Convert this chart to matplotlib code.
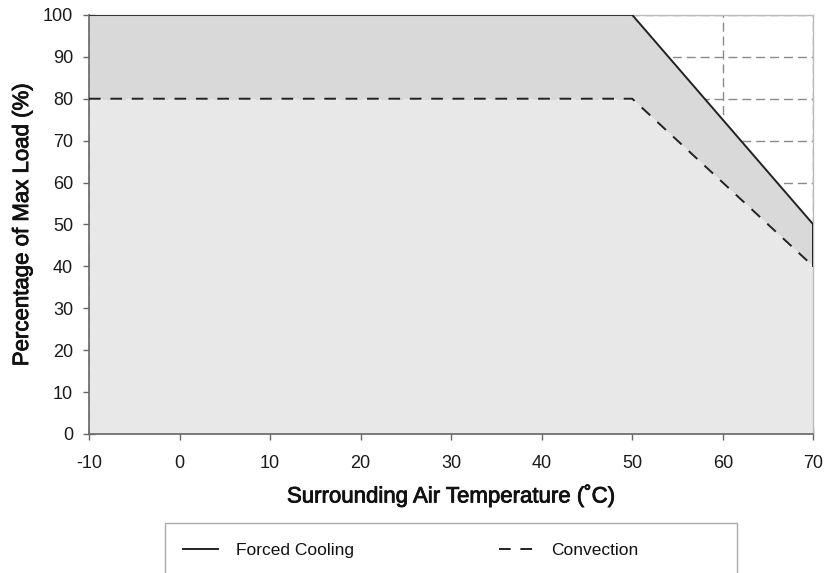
import matplotlib.pyplot as plt
import matplotlib.patheffects as pe
from matplotlib.patches import Rectangle

plt.rcParams['font.family'] = ['Liberation Sans', 'DejaVu Sans']
plt.rcParams['axes.unicode_minus'] = False

temp = [-10, 50, 70]
forced = [100, 100, 50]
convection = [80, 80, 40]

xticks = [-10, 0, 10, 20, 30, 40, 50, 60, 70]
yticks = [0, 10, 20, 30, 40, 50, 60, 70, 80, 90, 100]


def main():
    fig = plt.figure(figsize=(8.24, 5.73), dpi=100)
    ax = fig.add_axes([0.108, 0.2426, 0.879, 0.7314])

    ax.set_xlim(-10, 70)
    ax.set_ylim(0, 100)
    ax.set_xticks(xticks)
    ax.set_yticks(yticks)
    ax.tick_params(direction='inout', length=9, width=1, color='#666666',
                   labelsize=13, labelcolor='#1a1a1a')
    ax.tick_params(axis='x', pad=10.5)
    ax.tick_params(axis='y', pad=7)

    ax.grid(True, linestyle=(0, (6.5, 3.5)), color='#8a8a8a', linewidth=1)
    ax.set_axisbelow(True)

    ax.fill_between(temp, convection, forced, color='#d9d9d9', linewidth=0, zorder=2)
    ax.fill_between(temp, 0, convection, color='#e8e8e8', linewidth=0, zorder=2)

    ax.plot(temp, forced, color='#222222', linewidth=1.4, label='Forced Cooling', zorder=3)
    ax.plot(temp, convection, color='#222222', linewidth=1.4, linestyle=(0, (6, 5)),
            label='Convection', zorder=3)
    ax.plot([temp[-1], temp[-1]], [convection[-1], forced[-1]], color='#222222',
            linewidth=1.4, zorder=3)

    for side in ['left', 'bottom']:
        ax.spines[side].set_color('#666666')
        ax.spines[side].set_linewidth(1.2)
    for side in ['top', 'right']:
        ax.spines[side].set_color('#bbbbbb')
        ax.spines[side].set_linewidth(1)

    heavy = [pe.withStroke(linewidth=0.6, foreground='#111111')]
    ax.set_xlabel('Surrounding Air Temperature (˚C)', fontsize=16, labelpad=9,
                  color='#111111', path_effects=heavy)
    ax.set_ylabel('Percentage of Max Load (%)', fontsize=16, labelpad=7,
                  color='#111111', path_effects=heavy)

    # legend box, open at the bottom edge of the image
    fig.patches.append(Rectangle((165 / 824, -0.02), 572 / 824, 61.5 / 573,
                                 transform=fig.transFigure, fill=False,
                                 edgecolor='#aaaaaa', linewidth=1))
    leg = fig.legend(loc='center left', bbox_to_anchor=(183 / 824, 1 - 550 / 573),
                     ncol=2, fontsize=12.5, frameon=False, borderpad=0,
                     borderaxespad=0, columnspacing=8.35, handlelength=2.0,
                     handletextpad=1.04)
    for t in leg.get_texts():
        t.set_color('#111111')

    fig.savefig('out.png', dpi=100)
    return 0


main()
